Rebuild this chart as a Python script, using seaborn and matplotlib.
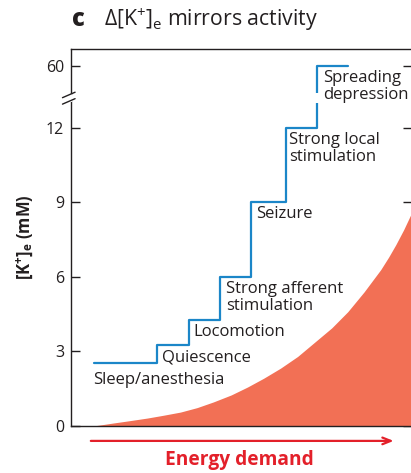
"""
Delta [K+]e mirrors activity: step line of [K+]e per brain state,
with the energy demand curve filled underneath.
"""

import matplotlib

matplotlib.use("Agg")
import matplotlib.pyplot as plt
import seaborn as sns
import pandas as pd

# --- data ------------------------------------------------------------------
# x is an arbitrary "activity" axis (0..100), y is [K+]e in mM on a broken axis
# (the top level, 60 mM, is drawn at 14.5 on the display scale)
step_x = [6.8, 25.3, 34.7, 43.8, 52.9, 63.2, 72.1, 81.2]
step_k = [2.55, 3.25, 4.25, 6.0, 9.0, 12.0, 14.5, 14.5]

state_labels = [
    "Sleep/anesthesia",
    "Quiescence",
    "Locomotion",
    "Strong afferent\nstimulation",
    "Seizure",
    "Strong local\nstimulation",
    "Spreading\ndepression",
]

energy_x = [6.5, 9.5, 12.4, 17, 22.4, 27, 32.1, 37, 41.8, 47, 51.8, 56.5,
            61.5, 66.5, 71.2, 76.5, 81.2, 86, 90.9, 93.2, 95.3, 97.6, 100]
energy_y = [0.0, 0.06, 0.12, 0.21, 0.32, 0.43, 0.56, 0.74, 0.97, 1.25, 1.57,
            1.92, 2.33, 2.8, 3.34, 3.95, 4.6, 5.4, 6.3, 6.8, 7.3, 7.9, 8.6]

ytick_pos = [0, 3, 6, 9, 12, 14.5]
ytick_lab = ["0", "3", "6", "9", "12", "60"]
y_break = 13.2

BLUE = "#1B86C8"
FILL = "#F27055"
RED = "#E3202A"
INK = "#231F20"

sns.set_theme(style="white")
plt.rcParams["font.family"] = ["Open Sans", "DejaVu Sans"]
plt.rcParams["mathtext.fontset"] = "custom"
plt.rcParams["mathtext.rm"] = "Open Sans"
plt.rcParams["mathtext.it"] = "Open Sans"
plt.rcParams["mathtext.bf"] = "Open Sans:bold"

fig = plt.figure(figsize=(4.11, 4.73), dpi=100)
ax = fig.add_axes([71 / 411, 1 - 426 / 473, 341 / 411 - 0.0005, 377 / 473])

# energy demand area
ax.fill_between(energy_x, energy_y, 0, color=FILL, lw=0, zorder=1)

# [K+]e steps
steps = pd.DataFrame({"x": step_x, "k": step_k})
sns.lineplot(data=steps, x="x", y="k", drawstyle="steps-post", color=BLUE,
             lw=1.6, ax=ax, zorder=3)
# small gap in the last riser where the axis is broken
ax.plot([step_x[6], step_x[6]], [y_break - 0.18, y_break + 0.22], color="white",
        lw=3, zorder=4, solid_capstyle="butt")

# state labels, placed just right of / below each step
offsets = [(-0.4, -0.39), (1.5, -0.15), (1.2, -0.15), (1.8, -0.15),
           (1.5, -0.15), (0.9, -0.15), (2.0, -0.15)]
for lab, x0, k, (dx, dy) in zip(state_labels, step_x, step_k, offsets):
    ax.text(x0 + dx, k + dy, lab, fontsize=12, color=INK, va="top",
            ha="left", linespacing=1.1, zorder=5, clip_on=False)

ax.set_xlim(0, 100)
ax.set_ylim(0, 15.18)
ax.set_yticks(ytick_pos)
ax.set_yticklabels(ytick_lab)
ax.set_xticks([])
ax.set_xlabel("")
ax.set_ylabel("[K$^{\\mathbf{+}}$]$_{\\mathbf{e}}$ (mM)", fontsize=12,
              fontweight="bold", color=INK, labelpad=8)
ax.tick_params(axis="y", direction="in", length=6.5, width=1, color=INK,
               labelsize=11.5, labelcolor=INK, pad=5, left=True, right=True)
for side in ["left", "top", "bottom", "right"]:
    ax.spines[side].set_color(INK)
    ax.spines[side].set_linewidth(1)
ax.spines["right"].set_visible(True)

# break marks on the left axis
ax.plot([0, 0], [y_break - 0.08, y_break + 0.1], color="white", lw=3,
        transform=ax.get_yaxis_transform(), clip_on=False, zorder=6)
for yy in [y_break + 0.14, y_break - 0.12]:
    ax.plot([-0.025, 0.012], [yy - 0.12, yy + 0.1], color=INK, lw=1,
            transform=ax.get_yaxis_transform(), clip_on=False, zorder=7)

# energy demand arrow below the axis
ax.annotate("", xy=(95.5, -0.6), xytext=(5, -0.6), xycoords="data",
            arrowprops=dict(arrowstyle="->,head_length=0.5,head_width=0.2",
                            color=RED, lw=1.6),
            annotation_clip=False)
ax.text(49.5, -1.35, "Energy demand", color=RED, fontsize=13.8,
        fontweight="bold", ha="center", va="center", clip_on=False)

# panel title
fig.text(72 / 411, 1 - 20 / 473, "c", fontsize=17, fontweight="heavy",
         color=INK, va="center", ha="left")
fig.text(104 / 411, 1 - 20 / 473, "Δ[K$^{+}$]$_{\\mathrm{e}}$ mirrors activity",
         fontsize=15.3, color=INK, va="center", ha="left")

fig.savefig("out.png", dpi=100)
